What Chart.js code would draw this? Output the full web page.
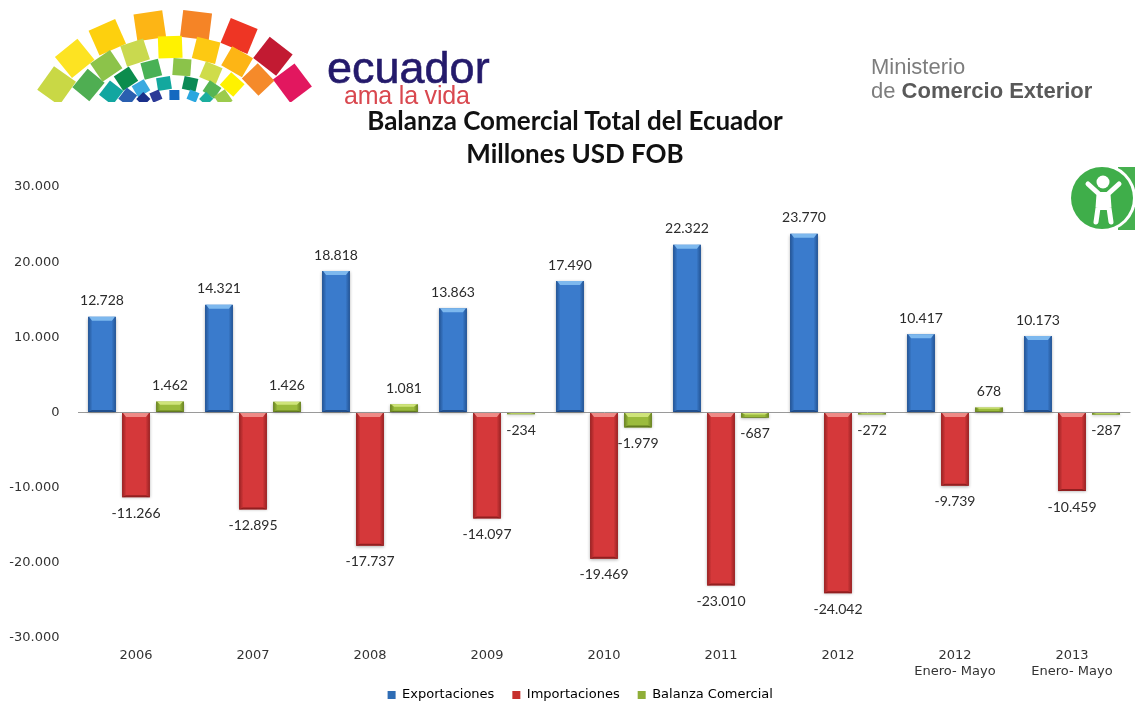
<!DOCTYPE html>
<html>
<head>
<meta charset="utf-8">
<style>
  html, body { margin: 0; padding: 0; background: #fff; }
  #wrap { position: relative; width: 1135px; height: 708px; overflow: hidden; }
  #chart-balanza { position: absolute; left: 0; top: 0; }
  .txt { position: absolute; white-space: nowrap; font-family: "Liberation Sans", sans-serif; }
  #logo, #icon { position: absolute; left: 0; top: 0; }
  #titulo { position: absolute; left: 275px; width: 600px; top: 104px; text-align: center; font: bold 26px/33px Lato, sans-serif; color: #111; }
</style>
</head>
<body>
<div id="wrap">
  <canvas id="chart-balanza" width="1135" height="708"></canvas>
  <svg id="logo" width="330" height="110"></svg>
  <div class="txt" style="left:327px;top:42px;font-size:45px;color:#241a6b;-webkit-text-stroke:0.6px #241a6b;">ecuador</div>
  <div class="txt" style="left:344px;top:81px;font-size:25px;letter-spacing:-0.2px;color:#d9484f;">ama la vida</div>
  <div class="txt" style="left:871px;top:54px;font-size:22px;color:#7d7d7d;">Ministerio</div>
  <div class="txt" style="left:871px;top:78px;font-size:22px;color:#7d7d7d;">de <b style="color:#595959">Comercio Exterior</b></div>
  <div id="titulo"></div>
  <svg id="icon" width="1135" height="260" style="pointer-events:none">
    <rect x="1118" y="167" width="17" height="63" fill="#46b04f"/>
    <circle cx="1102" cy="198" r="34" fill="#fff"/>
    <circle cx="1102" cy="198" r="31" fill="#3fae4a"/>
    <circle cx="1103" cy="182" r="6.5" fill="#fff"/>
    <path d="M1088 184 L1099 194 L1098 208 L1096 222 M1119 184 L1108 194 L1109 208 L1111 222" stroke="#fff" stroke-width="5" fill="none" stroke-linecap="round" stroke-linejoin="round"/>
    <path d="M1098 192 H1109 V210 H1098 Z" fill="#fff"/>
  </svg>
</div>
<script src="https://cdn.jsdelivr.net/npm/chart.js@4"></script>
<script>
const categories = ['2006', '2007', '2008', '2009', '2010', '2011', '2012', ['2012', 'Enero- Mayo'], ['2013', 'Enero- Mayo']];
const exportaciones = [12728, 14321, 18818, 13863, 17490, 22322, 23770, 10417, 10173];
const importaciones = [-11266, -12895, -17737, -14097, -19469, -23010, -24042, -9739, -10459];
const balanza = [1462, 1426, 1081, -234, -1979, -687, -272, 678, -287];
const yTicks = [30000, 20000, 10000, 0, -10000, -20000, -30000];
const seriesNames = ['Exportaciones', 'Importaciones', 'Balanza Comercial'];
const titleLines = ['Balanza Comercial Total del Ecuador', 'Millones USD FOB'];

function formatMiles(v) {
  return String(v).replace(/\B(?=(\d{3})+(?!\d))/g, '.');
}

/* fan logo: rotated tiles sitting on nested ellipses */
function drawLogo() {
  const rows = [
    { rx: 121, ry: 78, from: 168, step: 22, w: 29, h: 27, colors: ['#c9d845', '#fde322', '#fdd00e', '#fdb515', '#f58426', '#ee3524', '#c21a32', '#e2175f'] },
    { rx: 91, ry: 55, from: 162, step: 23, w: 24, h: 22, colors: ['#4fae52', '#8cc34a', '#c9d94f', '#fff200', '#fdc912', '#fdb515', '#f58a2a'] },
    { rx: 66, ry: 35, from: 165, step: 27, w: 18, h: 17, colors: ['#12a6a0', '#0b8c4d', '#49b155', '#8bc34a', '#cfdc4a', '#fff200'] },
    { rx: 49, ry: 19, from: 165, step: 31, w: 14, h: 13, colors: ['#2a5fb0', '#3aa9e0', '#13a89e', '#0b8a55', '#56b553', '#9ccb4c'] },
    { rx: 35, ry: 7, from: 155, step: 32, w: 10, h: 10, colors: ['#1a2f8a', '#2c3a97', '#1469c0', '#2aa7df', '#1cae9e'] }
  ];
  const cx = 175, cy = 102;
  let html = '<defs><clipPath id="fan"><rect x="0" y="0" width="330" height="102"/></clipPath></defs><g clip-path="url(#fan)">';
  rows.forEach(row => {
    row.colors.forEach((color, i) => {
      const deg = row.from - i * row.step;
      const t = deg * Math.PI / 180;
      const x = cx + row.rx * Math.cos(t);
      const y = cy - row.ry * Math.sin(t);
      html += '<rect fill="' + color + '" x="' + (-row.w / 2) + '" y="' + (-row.h / 2) + '" width="' + row.w + '" height="' + row.h + '" transform="translate(' + x.toFixed(1) + ',' + y.toFixed(1) + ') rotate(' + ((90 - deg) * 0.7).toFixed(1) + ')"/>';
    });
  });
  document.getElementById('logo').innerHTML = html + '</g>';
}

const barStyle = {
  afterLayout(chart) {
    // legend sits right of the canvas centre and above where layout puts it
    chart.legend.left += 15;
    chart.legend.right += 15;
    chart.legend.top -= 9.5;
    chart.legend.bottom -= 9.5;
  },
  beforeDatasetsDraw(chart) {
    chart.ctx.save();
    chart.ctx.shadowColor = 'rgba(0,0,0,0.3)';
    chart.ctx.shadowBlur = 3;
    chart.ctx.shadowOffsetY = 1;
  },
  afterDatasetsDraw(chart) {
    const ctx = chart.ctx;
    ctx.restore();
    const lights = ['#7db8ee', '#ef8a86', '#cfe47a'];
    const darks = ['rgba(15,50,100,', 'rgba(100,15,15,', 'rgba(60,80,10,'];
    chart.data.datasets.forEach((ds, i) => {
      chart.getDatasetMeta(i).data.forEach((bar, j) => {
        const top = Math.min(bar.y, bar.base);
        const h = Math.abs(bar.base - bar.y);
        const left = bar.x - bar.width / 2;
        const right = bar.x + bar.width / 2;

        // dark sides
        const g = ctx.createLinearGradient(left, 0, right, 0);
        g.addColorStop(0, darks[i] + '0.55)');
        g.addColorStop(0.16, darks[i] + '0)');
        g.addColorStop(0.84, darks[i] + '0)');
        g.addColorStop(1, darks[i] + '0.55)');
        ctx.fillStyle = g;
        ctx.fillRect(left, top, bar.width, h);

        // lighter bevel along the top, dark along the bottom
        const band = Math.min(4, h * 0.3);
        ctx.fillStyle = lights[i];
        ctx.beginPath();
        ctx.moveTo(left + 1, top);
        ctx.lineTo(right - 1, top);
        ctx.lineTo(right - 4, top + band);
        ctx.lineTo(left + 4, top + band);
        ctx.closePath();
        ctx.fill();

        ctx.fillStyle = darks[i] + '0.6)';
        ctx.beginPath();
        ctx.moveTo(left, top + h);
        ctx.lineTo(right, top + h);
        ctx.lineTo(right - 4, top + h - band / 2);
        ctx.lineTo(left + 4, top + h - band / 2);
        ctx.closePath();
        ctx.fill();
      });
    });
  }
};

const valueLabels = {
  afterDraw(chart) {
    const ctx = chart.ctx;
    ctx.save();
    ctx.font = "14px Lato, sans-serif";
    ctx.fillStyle = '#2b2b2b';
    ctx.textAlign = 'center';
    ctx.textBaseline = 'middle';
    chart.data.datasets.forEach((ds, i) => {
      chart.getDatasetMeta(i).data.forEach((bar, j) => {
        const v = ds.data[j];
        ctx.fillText(formatMiles(v), bar.x, v >= 0 ? bar.y - 16 : bar.y + 16);
      });
    });
    ctx.restore();
  }
};

drawLogo();
document.getElementById('titulo').innerHTML = titleLines.join('<br>');

new Chart(document.getElementById('chart-balanza').getContext('2d'), {
  type: 'bar',
  data: {
    labels: categories,
    datasets: [
      { label: seriesNames[0], data: exportaciones, backgroundColor: '#3a7bcc' },
      { label: seriesNames[1], data: importaciones, backgroundColor: '#d5383a' },
      { label: seriesNames[2], data: balanza, backgroundColor: '#9bbb3c' }
    ]
  },
  options: {
    responsive: false,
    animation: false,
    datasets: { bar: { categoryPercentage: 0.872, barPercentage: 0.82 } },
    layout: { padding: { left: 0, right: 4.5, top: 187, bottom: -13 } },
    plugins: {
      tooltip: { enabled: false },
      title: { display: false },
      legend: {
        position: 'bottom',
        labels: {
          boxWidth: 8,
          boxHeight: 8,
          padding: 18,
          color: '#333',
          font: { family: '"DejaVu Sans", sans-serif', size: 13 },
          generateLabels: () => seriesNames.map((text, i) => ({
            text,
            datasetIndex: i,
            fillStyle: ['#2f6db5', '#c6302d', '#8fae38'][i],
            strokeStyle: 'transparent',
            lineWidth: 0
          }))
        }
      }
    },
    scales: {
      x: {
        afterFit: (axis) => { axis.height = 42; },
        grid: { display: false },
        border: { display: false },
        ticks: { color: '#333', maxRotation: 0, autoSkip: false, padding: 2, font: { family: '"DejaVu Sans", sans-serif', size: 13 } }
      },
      y: {
        min: -30000,
        max: 30000,
        afterBuildTicks: (axis) => { axis.ticks = yTicks.map(value => ({ value })); },
        afterFit: (axis) => { axis.width = 77.5; },
        border: { display: false },
        grid: {
          drawTicks: false,
          color: (c) => c.tick && c.tick.value === 0 ? '#9a9a9a' : 'transparent',
          lineWidth: 1
        },
        ticks: {
          color: '#333',
          padding: 18,
          font: { family: '"DejaVu Sans", sans-serif', size: 13 },
          callback: (v) => formatMiles(v)
        }
      }
    }
  },
  plugins: [barStyle, valueLabels]
});
</script>
</body>
</html>
